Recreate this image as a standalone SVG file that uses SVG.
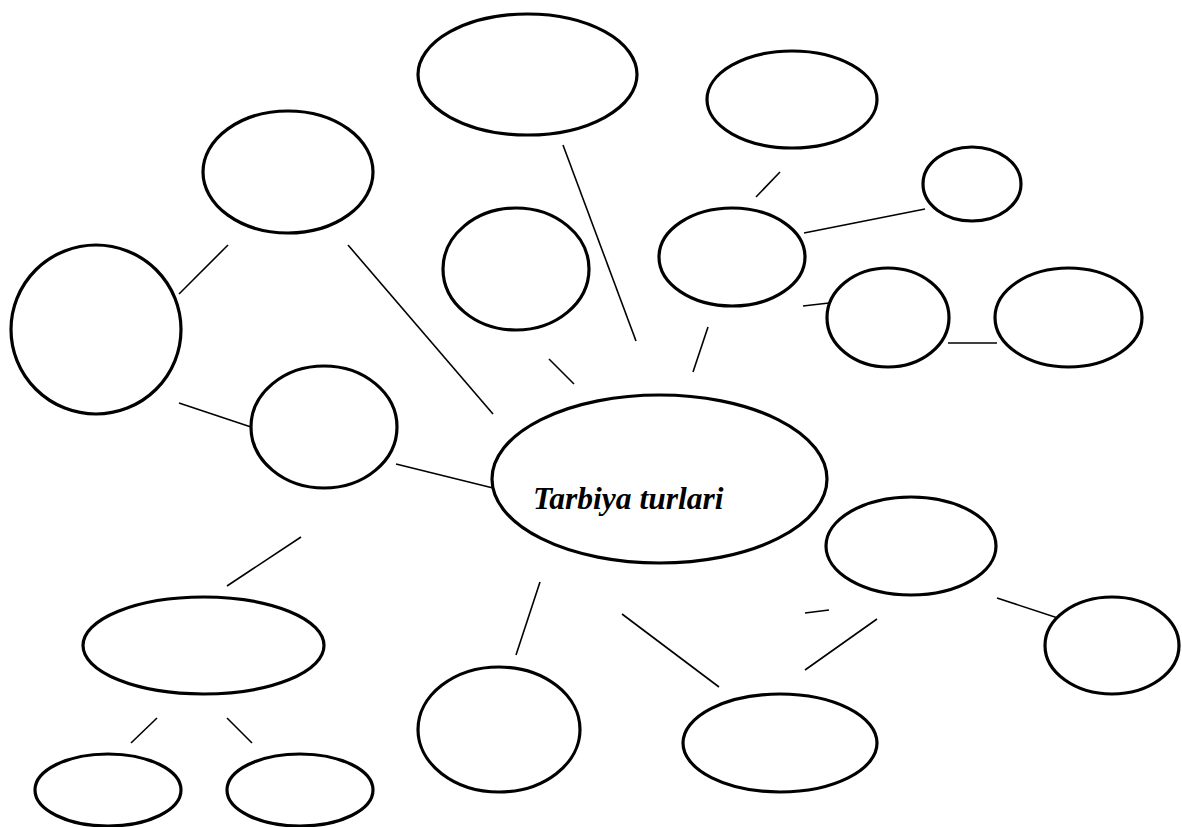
<svg xmlns="http://www.w3.org/2000/svg" width="1182" height="827" viewBox="0 0 1182 827">
<style>
.n{fill:#fff;stroke:#000;stroke-width:3.2}
.c line{stroke:#000;stroke-width:1.6}
.t{font-family:"Liberation Serif","Times New Roman",serif;font-weight:bold;font-style:italic;font-size:31.5px;fill:#000}
</style>
<rect width="1182" height="827" fill="#fff"/>
<g id="connectors" class="c">
<line x1="563" y1="145" x2="636" y2="341"/>
<line x1="756" y1="197" x2="780" y2="172"/>
<line x1="804" y1="233" x2="925" y2="209"/>
<line x1="803" y1="306" x2="829" y2="303"/>
<line x1="948" y1="343" x2="997" y2="343"/>
<line x1="708" y1="327" x2="693" y2="372"/>
<line x1="549" y1="359" x2="574" y2="384"/>
<line x1="179" y1="294" x2="228" y2="245"/>
<line x1="348" y1="245" x2="493" y2="414"/>
<line x1="179" y1="403" x2="251" y2="427"/>
<line x1="396" y1="464" x2="493" y2="488"/>
<line x1="227" y1="586" x2="301" y2="537"/>
<line x1="131" y1="743" x2="157" y2="718"/>
<line x1="227" y1="718" x2="252" y2="743"/>
<line x1="540" y1="582" x2="516" y2="655"/>
<line x1="622" y1="614" x2="719" y2="687"/>
<line x1="805" y1="613" x2="829" y2="610"/>
<line x1="877" y1="619" x2="805" y2="670"/>
<line x1="997" y1="598" x2="1070" y2="622"/>
</g>
<g id="n1"><ellipse class="n" cx="527.5" cy="74.5" rx="109.5" ry="60.5"/></g>
<g id="n2"><ellipse class="n" cx="792" cy="99.5" rx="85" ry="48.5"/></g>
<g id="n3"><ellipse class="n" cx="972" cy="184" rx="49" ry="37"/></g>
<g id="n4"><ellipse class="n" cx="732" cy="257" rx="73" ry="49"/></g>
<g id="n5"><ellipse class="n" cx="888" cy="317.5" rx="61" ry="49.5"/></g>
<g id="n6"><ellipse class="n" cx="1068.5" cy="317.5" rx="73.5" ry="49.5"/></g>
<g id="n7"><ellipse class="n" cx="516" cy="269" rx="73" ry="61"/></g>
<g id="n8"><ellipse class="n" cx="288" cy="172" rx="85" ry="61"/></g>
<g id="n9"><ellipse class="n" cx="96" cy="329.5" rx="85" ry="84.5"/></g>
<g id="n10"><ellipse class="n" cx="324" cy="427" rx="73" ry="61"/></g>
<g id="n11"><ellipse class="n" cx="659.5" cy="479" rx="167.5" ry="84"/><text class="t" x="533" y="509">Tarbiya turlari</text></g>
<g id="n12"><ellipse class="n" cx="911" cy="546" rx="85" ry="49"/></g>
<g id="n13"><ellipse class="n" cx="1112" cy="645.5" rx="67" ry="48.5"/></g>
<g id="n14"><ellipse class="n" cx="203.5" cy="645.5" rx="120.5" ry="48.5"/></g>
<g id="n15"><ellipse class="n" cx="108" cy="790" rx="73" ry="36"/></g>
<g id="n16"><ellipse class="n" cx="300" cy="790" rx="73" ry="36"/></g>
<g id="n17"><ellipse class="n" cx="499" cy="729.5" rx="81" ry="62.5"/></g>
<g id="n18"><ellipse class="n" cx="780" cy="743" rx="97" ry="49"/></g>
</svg>
